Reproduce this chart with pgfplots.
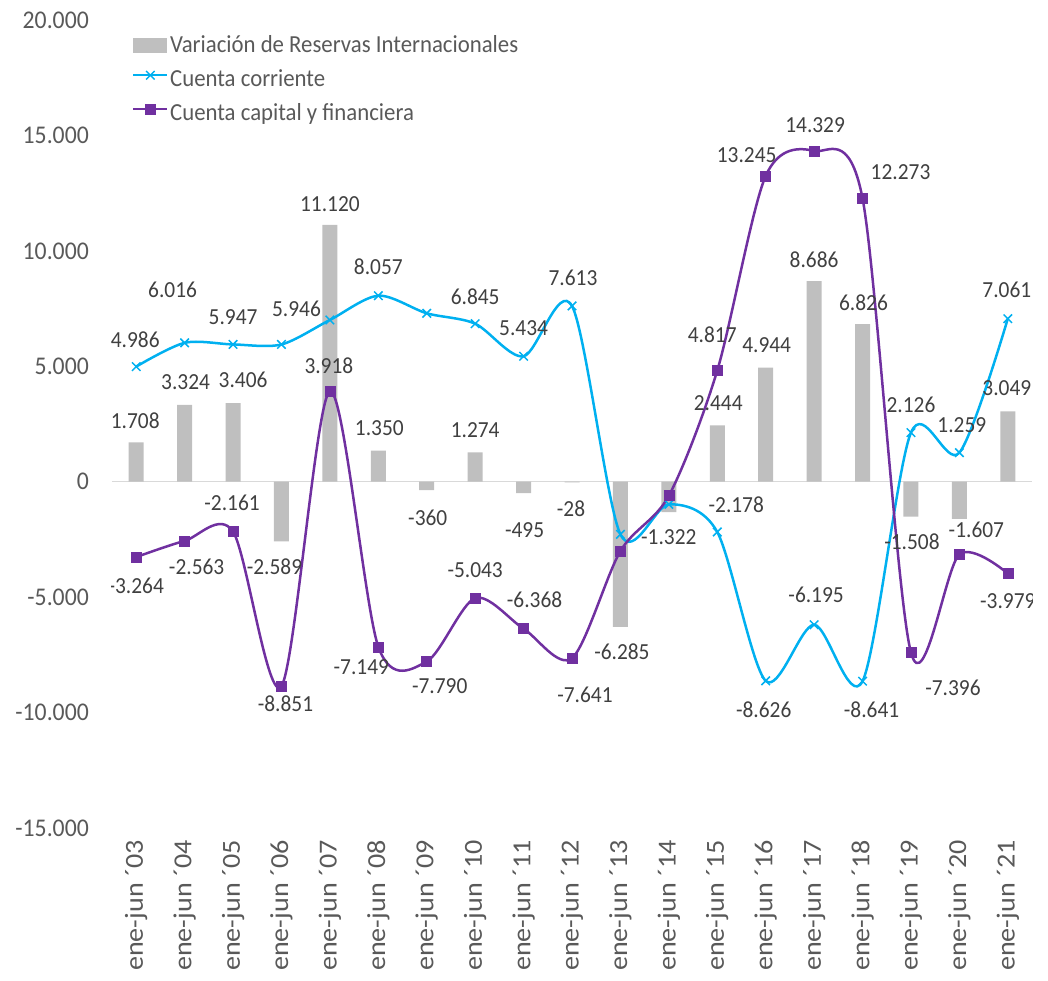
\documentclass[border=0pt]{standalone}
\usepackage{fontspec}
\setmainfont[FakeStretch=0.93]{Carlito}
\newfontfamily\catfont[FakeStretch=1.08]{Carlito}
\usepackage{pgfplots}
\usepackage{pgfplotstable}
\pgfplotsset{compat=1.18}
\definecolor{barc}{HTML}{BFBFBF}
\definecolor{cyanc}{HTML}{00B0F0}
\definecolor{purc}{HTML}{7030A0}
\definecolor{tickc}{HTML}{595959}
\definecolor{lblc}{HTML}{404040}
\definecolor{zeroc}{HTML}{D9D9D9}
\newcommand\lbl[5]{\node[font=\fontsize{23}{27}\selectfont, text=lblc, inner sep=0pt] at ([xshift=#3pt,yshift=#4pt]axis cs:#1,#2) {#5};}
\pgfplotsset{
  lineleg/.style={legend image code/.code={\draw[mark repeat=2,mark phase=2,##1] plot coordinates {(0pt,5.5pt) (17pt,5.5pt) (34pt,5.5pt)};}},
  barleg/.style={legend image code/.code={\fill[barc] (0pt,-6.5pt) rectangle (34pt,8.5pt);}},
}

\pgfplotstableread{
x bar cc kf
0 1708 4986 -3264
1 3324 6016 -2563
2 3406 5947 -2161
3 -2589 5946 -8851
4 11120 7006 3918
5 1350 8057 -7149
6 -360 7296 -7790
7 1274 6845 -5043
8 -495 5434 -6368
9 -28 7613 -7641
10 -6285 -2280 -3003
11 -1322 -980 -606
12 2444 -2178 4817
13 4944 -8626 13245
14 8686 -6195 14329
15 6826 -8641 12273
16 -1508 2126 -7396
17 -1607 1259 -3150
18 3049 7061 -3979
}\datatab

\begin{document}
\begin{tikzpicture}
\begin{axis}[
  scale only axis, width=920pt, height=808pt,
  xmin=-0.5, xmax=18.5, ymin=-15000, ymax=20000,
  ytick={-15000,-10000,-5000,0,5000,10000,15000,20000},
  scaled y ticks=false,
  xtick={0,...,18},
  xticklabels={ene-jun ´03,ene-jun ´04,ene-jun ´05,ene-jun ´06,ene-jun ´07,ene-jun ´08,ene-jun ´09,ene-jun ´10,ene-jun ´11,ene-jun ´12,ene-jun ´13,ene-jun ´14,ene-jun ´15,ene-jun ´16,ene-jun ´17,ene-jun ´18,ene-jun ´19,ene-jun ´20,ene-jun ´21},
  axis line style={draw=none}, major tick length=0pt,
  /pgf/number format/1000 sep={.},
  /pgf/number format/assume math mode=true,
  yticklabel style={font=\fontsize{25.5}{30}\selectfont, text=tickc, inner sep=0pt, xshift=-23pt},
  xticklabel style={font=\catfont\fontsize{26}{30}\selectfont, text=tickc, rotate=90, anchor=east, inner sep=0pt},
  xticklabel shift=12pt,
  legend style={at={(0.0217,0.982)}, anchor=north west, draw=none, fill=none, inner sep=0pt,
    font=\fontsize{24.5}{28}\selectfont, text=tickc, cells={anchor=west},
    nodes={inner xsep=1.5pt, inner ysep=1pt, text height=17pt, text depth=5pt},
    row sep=10pt, column sep=0pt},
]
\addplot[zeroc, line width=1.5pt, forget plot] coordinates {(-0.5,0) (18.5,0)};
\addplot[ybar, bar width=15pt, bar shift=0pt, fill=barc, draw=none, barleg]
  table[x=x,y=bar]{\datatab};
\addlegendentry{Variación de Reservas Internacionales}
\addplot[cyanc, line width=2.5pt, smooth, mark=x, mark size=6pt, mark options={line width=1.5pt}, lineleg]
  table[x=x,y=cc]{\datatab};
\addlegendentry{Cuenta corriente}
\addplot[purc, line width=2.5pt, smooth, mark=square*, mark size=5pt, mark options={line width=0.5pt}, lineleg]
  table[x=x,y=kf]{\datatab};
\addlegendentry{Cuenta capital y financiera}

% bar labels
\lbl{0}{1708}{-1}{22}{1.708}
\lbl{1}{3324}{1}{23}{3.324}
\lbl{2}{3406}{10}{23}{3.406}
\lbl{3}{-2589}{-7}{-25.5}{-2.589}
\lbl{4}{11120}{0}{21}{11.120}
\lbl{5}{1350}{1}{22.5}{1.350}
\lbl{6}{-360}{1}{-28}{-360}
\lbl{7}{1274}{0}{22}{1.274}
\lbl{8}{-495}{1}{-37}{-495}
\lbl{9}{-28}{-1}{-26}{-28}
\lbl{10}{-6285}{1.5}{-25}{-6.285}
\lbl{11}{-1322}{0}{-25}{-1.322}
\lbl{12}{2444}{1}{22}{2.444}
\lbl{13}{4944}{1}{22.6}{4.944}
\lbl{14}{8686}{0}{21}{8.686}
\lbl{15}{6826}{1}{21}{6.826}
\lbl{16}{-1508}{1}{-25.5}{-1.508}
\lbl{17}{-1607}{17}{-11}{-1.607}
\lbl{18}{3049}{-1}{23}{3.049}
% cuenta corriente labels
\lbl{0}{4986}{-1}{26.6}{4.986}
\lbl{1}{6016}{-12}{53}{6.016}
\lbl{2}{5947}{0}{27}{5.947}
\lbl{3}{5946}{15}{36}{5.946}
\lbl{5}{8057}{0}{29}{8.057}
\lbl{7}{6845}{0}{27}{6.845}
\lbl{8}{5434}{0}{28}{5.434}
\lbl{9}{7613}{1}{28}{7.613}
\lbl{12}{-2178}{19}{27}{-2.178}
\lbl{13}{-8626}{-2}{-29}{-8.626}
\lbl{14}{-6195}{2}{30}{-6.195}
\lbl{15}{-8641}{9}{-29}{-8.641}
\lbl{16}{2126}{0}{27.6}{2.126}
\lbl{17}{1259}{2.5}{27.6}{1.259}
\lbl{18}{7061}{-1}{29}{7.061}
% cuenta capital labels
\lbl{0}{-3264}{0}{-29}{-3.264}
\lbl{1}{-2563}{12}{-26}{-2.563}
\lbl{2}{-2161}{-1}{28.6}{-2.161}
\lbl{3}{-8851}{4}{-18}{-8.851}
\lbl{4}{3918}{-1}{26}{3.918}
\lbl{5}{-7149}{-17}{-20}{-7.149}
\lbl{6}{-7790}{13}{-24.5}{-7.790}
\lbl{7}{-5043}{0}{28}{-5.043}
\lbl{8}{-6368}{11}{29}{-6.368}
\lbl{9}{-7641}{13}{-37}{-7.641}
\lbl{12}{4817}{-5}{35.5}{4.817}
\lbl{13}{13245}{-19}{21}{13.245}
\lbl{14}{14329}{1}{26}{14.329}
\lbl{15}{12273}{38}{26}{12.273}
\lbl{16}{-7396}{42}{-35}{-7.396}
\lbl{18}{-3979}{0}{-28}{-3.979}
\end{axis}
\pgfresetboundingbox
\path[use as bounding box] ([shift={(-112pt,-152pt)}]current axis.south west) rectangle ([shift={(16pt,20pt)}]current axis.north east);
\end{tikzpicture}
\end{document}
